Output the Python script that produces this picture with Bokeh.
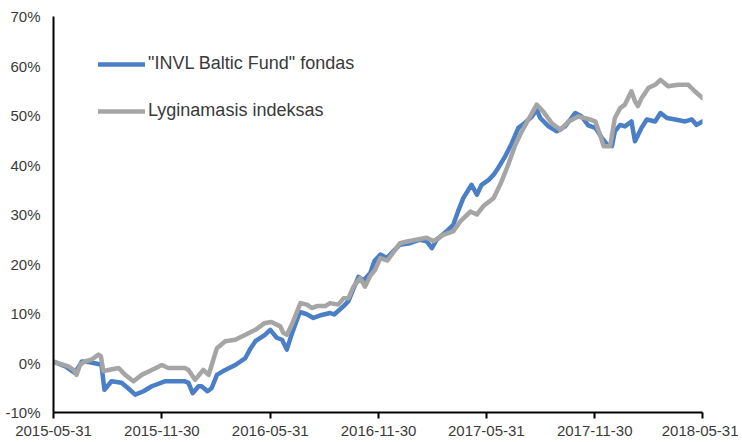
import pandas as pd
from bokeh.plotting import figure
from bokeh.models import (Range1d, FixedTicker, DatetimeTickFormatter, PrintfTickFormatter,
                          Legend, LegendItem)
from bokeh.embed import file_html
from bokeh.resources import INLINE

# ---- data ----
fund_name = '"INVL Baltic Fund" fondas'
index_name = "Lyginamasis indeksas"

fund_dates = ["2015-05-31","2015-06-20","2015-07-06","2015-07-18","2015-07-29","2015-08-15","2015-08-20",
    "2015-08-25","2015-09-06","2015-09-23","2015-10-04","2015-10-16","2015-10-30","2015-11-13","2015-12-05",
    "2015-12-16","2016-01-08","2016-01-14","2016-01-21","2016-01-31","2016-02-05","2016-02-15","2016-02-22",
    "2016-03-02","2016-03-16","2016-04-02","2016-04-19","2016-04-28","2016-05-06","2016-05-22","2016-05-31",
    "2016-06-11","2016-06-20","2016-06-28","2016-07-06","2016-07-20","2016-07-31","2016-08-12","2016-08-26",
    "2016-09-09","2016-09-16","2016-10-02","2016-10-10","2016-10-18","2016-10-27","2016-11-05","2016-11-16",
    "2016-11-23","2016-12-03","2016-12-14","2016-12-25","2017-01-05","2017-01-22","2017-02-08","2017-02-19",
    "2017-02-28","2017-03-08","2017-03-25","2017-04-05","2017-04-14","2017-04-22","2017-05-06","2017-05-15",
    "2017-05-23","2017-06-04","2017-06-12","2017-06-20","2017-07-02","2017-07-13","2017-07-24","2017-08-04",
    "2017-08-16","2017-08-24","2017-08-30","2017-09-13","2017-09-27","2017-10-11","2017-10-28","2017-11-08",
    "2017-11-19","2017-12-01","2017-12-12","2017-12-21","2017-12-29","2018-01-03","2018-01-12","2018-01-20",
    "2018-01-31","2018-02-06","2018-02-17","2018-02-26","2018-03-12","2018-03-21","2018-04-01","2018-04-15",
    "2018-05-02","2018-05-13","2018-05-21","2018-05-31"]
fund_values = [0.3,-0.7,-2.0,0.3,0.2,-0.2,-0.4,-5.4,-3.7,-4.0,-5.1,-6.4,-5.7,-4.7,-3.7,-3.7,-3.7,-4.0,-6.1,
    -4.7,-4.7,-5.7,-5.1,-2.4,-1.4,-0.4,1.0,3.0,4.4,5.7,6.7,5.1,4.7,2.7,5.7,10.3,9.9,9.1,9.7,10.1,9.8,11.5,
    12.5,14.8,17.4,16.7,18.2,20.6,21.9,21.2,22.6,23.9,24.2,24.9,24.6,23.2,24.9,26.6,27.9,30.9,33.3,36.0,
    34.0,36.0,37.0,38.0,39.4,41.8,44.4,47.5,48.5,49.8,51.2,49.5,47.8,46.8,47.8,50.5,49.8,48.0,47.5,45.5,
    44.1,43.8,46.8,48.1,47.8,48.8,44.8,47.5,49.2,48.8,50.5,49.5,49.2,48.8,49.2,48.1,48.8]

index_dates = ["2015-05-31","2015-06-25","2015-07-04","2015-07-09","2015-07-15","2015-07-23","2015-08-03",
    "2015-08-15","2015-08-19","2015-08-23","2015-09-01","2015-09-18","2015-09-29","2015-10-13","2015-10-27",
    "2015-11-13","2015-11-30","2015-12-11","2015-12-28","2016-01-08","2016-01-14","2016-01-25","2016-02-08",
    "2016-02-17","2016-02-25","2016-03-02","2016-03-16","2016-04-02","2016-04-19","2016-05-06","2016-05-22",
    "2016-06-02","2016-06-17","2016-06-22","2016-06-28","2016-07-06","2016-07-21","2016-08-01","2016-08-09",
    "2016-08-18","2016-09-01","2016-09-09","2016-09-23","2016-10-02","2016-10-10","2016-10-19","2016-10-30",
    "2016-11-07","2016-11-16","2016-11-24","2016-12-03","2016-12-15","2017-01-05","2017-01-19","2017-02-02",
    "2017-02-19","2017-03-03","2017-03-19","2017-04-05","2017-04-17","2017-05-04","2017-05-15","2017-05-26",
    "2017-06-12","2017-06-24","2017-07-07","2017-07-19","2017-07-30","2017-08-10","2017-08-24","2017-09-04",
    "2017-09-18","2017-10-03","2017-10-17","2017-11-02","2017-11-19","2017-12-01","2017-12-09","2017-12-15",
    "2017-12-26","2018-01-03","2018-01-12","2018-01-20","2018-01-31","2018-02-06","2018-02-11","2018-02-17",
    "2018-03-01","2018-03-12","2018-03-21","2018-04-03","2018-04-20","2018-05-07","2018-05-18","2018-05-31"]
index_values = [0.3,-0.7,-1.4,-2.4,-0.3,0.3,0.7,1.7,1.4,-1.6,-1.4,-1.0,-2.4,-3.7,-2.4,-1.4,-0.4,-1.0,-1.0,
    -1.0,-1.4,-3.4,-1.4,-2.4,0.7,3.0,4.4,4.7,5.7,6.7,8.1,8.3,7.4,6.1,5.7,7.6,12.1,11.8,11.1,11.5,11.5,12.1,
    11.8,13.1,13.1,15.5,17.2,15.4,17.6,18.8,21.2,20.7,24.2,24.6,24.9,25.3,24.6,25.9,26.6,28.6,30.6,30.0,
    31.7,33.3,36.2,40.1,44.1,46.8,49.2,52.2,50.8,48.5,47.1,48.8,49.8,49.3,48.8,46.1,43.8,43.8,49.5,51.5,
    52.2,54.9,52.9,51.9,53.5,55.6,56.2,57.2,55.9,56.2,56.2,54.9,53.5]

x_tick_labels = ["2015-05-31","2015-11-30","2016-05-31","2016-11-30","2017-05-31","2017-11-30","2018-05-31"]
y_ticks = [-10, 0, 10, 20, 30, 40, 50, 60, 70]

# ---- styling ----
FUND_COLOR = "#4A7EC6"
INDEX_COLOR = "#A5A5A5"
TEXT_COLOR = "#3a3a3a"
FONT = "Liberation Sans"

x_ticks = pd.to_datetime(x_tick_labels)
p = figure(width=738, height=440, x_axis_type="datetime",
           x_range=Range1d(x_ticks[0], x_ticks[-1]), y_range=Range1d(-10, 70),
           output_backend="svg", toolbar_location=None,
           min_border_left=53, min_border_right=36, min_border_top=16, min_border_bottom=28)
p.outline_line_color = None
p.xgrid.visible = False
p.ygrid.visible = False
p.background_fill_color = "white"
p.border_fill_color = "white"

r_fund = p.line(pd.to_datetime(fund_dates), fund_values, line_color=FUND_COLOR, line_width=4.5,
                line_join="round", line_cap="round")
r_index = p.line(pd.to_datetime(index_dates), index_values, line_color=INDEX_COLOR, line_width=4.5,
                 line_join="round", line_cap="round")

# axes
xa = p.xaxis[0]
xa.ticker = FixedTicker(ticks=[int(t.value // 10**6) for t in x_ticks])
fmt = "%Y-%m-%d"
xa.formatter = DatetimeTickFormatter(milliseconds=fmt, seconds=fmt, minsec=fmt, minutes=fmt, hourmin=fmt,
                                     hours=fmt, days=fmt, months=fmt, years=fmt)
xa.axis_line_color = "black"
xa.axis_line_width = 2
xa.major_tick_line_color = "black"
xa.major_tick_line_width = 2
xa.major_tick_out = 6
xa.major_tick_in = 0
xa.minor_tick_line_color = None
xa.major_label_standoff = 7
xa.major_label_text_font = FONT
xa.major_label_text_font_size = "15px"
xa.major_label_text_color = TEXT_COLOR

ya = p.yaxis[0]
ya.ticker = FixedTicker(ticks=y_ticks)
ya.formatter = PrintfTickFormatter(format="%d%%")
ya.axis_line_color = "black"
ya.axis_line_width = 2
ya.major_tick_line_color = None
ya.major_tick_out = 0
ya.major_tick_in = 0
ya.minor_tick_line_color = None
ya.major_label_standoff = 13
ya.major_label_text_font = FONT
ya.major_label_text_font_size = "15px"
ya.major_label_text_color = TEXT_COLOR

legend = Legend(items=[LegendItem(label=fund_name, renderers=[r_fund]),
                       LegendItem(label=index_name, renderers=[r_index])],
                location=(45, 291), orientation="vertical",
                glyph_width=47, glyph_height=20, label_height=20, label_standoff=3, spacing=26,
                padding=0, margin=0, border_line_color=None, background_fill_alpha=0,
                label_text_font=FONT, label_text_font_size="18px", label_text_color=TEXT_COLOR)
p.add_layout(legend, "center")

open("out.html", "w").write(file_html(p, INLINE))
